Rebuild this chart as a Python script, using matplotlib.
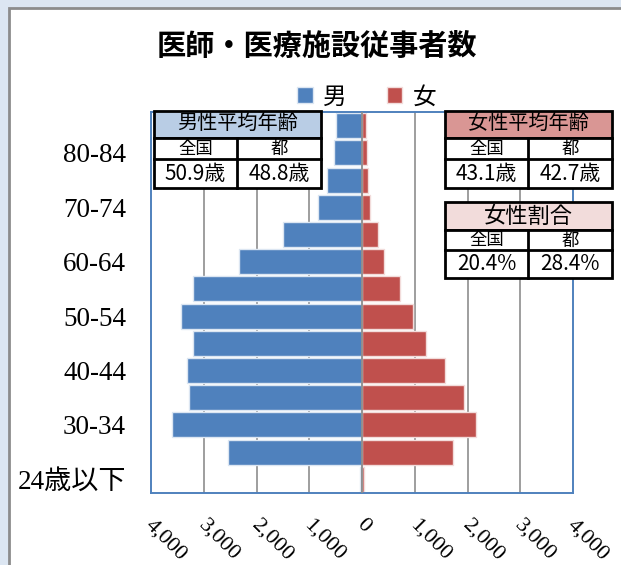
import matplotlib
matplotlib.use("Agg")
import matplotlib.pyplot as plt
from matplotlib.patches import Rectangle
from matplotlib.ticker import FixedLocator, FuncFormatter
import matplotlib.transforms as mtransforms
import numpy as np

# ---- data ----
categories = ['24歳以下', '25-29', '30-34', '35-39', '40-44', '45-49', '50-54',
              '55-59', '60-64', '65-69', '70-74', '75-79', '80-84', '85歳以上']
male = [40, 2540, 3600, 3280, 3310, 3210, 3430, 3200, 2330, 1500, 830, 660, 525, 495]
female = [30, 1730, 2160, 1940, 1575, 1215, 975, 720, 425, 310, 150, 120, 90, 85]
xticks = [-4000, -3000, -2000, -1000, 0, 1000, 2000, 3000, 4000]
legend_labels = ['男', '女']
title = '医師・医療施設従事者数'

male_age_title = '男性平均年齢'
female_age_title = '女性平均年齢'
female_ratio_title = '女性割合'
col_labels = ['全国', '都']
male_age = ['50.9歳', '48.8歳']
female_age = ['43.1歳', '42.7歳']
female_ratio = ['20.4%', '28.4%']

W, H = 621, 565
SANS = ['Noto Sans CJK JP', 'DejaVu Sans']
SERIF = ['Liberation Serif', 'Noto Sans CJK JP']

BLUE = '#4F81BD'
RED = '#C0504D'

fig = plt.figure(figsize=(W / 100, H / 100), dpi=100)
fig.patch.set_facecolor('#DCE6F2')

def fx(px):
    return px / W

def fy(py):
    return 1 - py / H

# white chart area with gray border
fig.add_artist(Rectangle((fx(9), fy(H + 20)), fx(W + 20), (H + 20 - 8) / H,
                         transform=fig.transFigure, facecolor='white',
                         edgecolor='#8C8C8C', linewidth=2, zorder=0))

ax = fig.add_axes([fx(151), fy(493), fx(573 - 151), (493 - 112) / H])
ax.set_facecolor('white')
y = np.arange(len(categories))
ax.barh(y, -np.array(male), height=0.92, color=BLUE, edgecolor='#DCE6F2',
        linewidth=1.0, zorder=2, label=legend_labels[0])
ax.barh(y, female, height=0.92, color=RED, edgecolor='#F2DCDB',
        linewidth=1.0, zorder=2, label=legend_labels[1])
ax.set_xlim(-4000, 4000)
ax.set_ylim(-0.5, len(categories) - 0.5)

for xv in xticks[1:-1]:
    if xv != 0:
        ax.axvline(xv, color='#969696', linewidth=1.3, zorder=1)
ax.axvline(0, color='#8C8C8C', linewidth=1.3, zorder=3)

for s in ax.spines.values():
    s.set_color(BLUE)
    s.set_linewidth(1.4)

ax.set_yticks(y[::2])
ax.set_yticklabels(categories[::2], fontfamily=SERIF, fontsize=19.5)
ax.tick_params(axis='y', length=0, pad=18)

ax.xaxis.set_major_locator(FixedLocator(xticks))
ax.xaxis.set_major_formatter(FuncFormatter(lambda v, p: f'{abs(int(v)):,}'))
ax.tick_params(axis='x', length=0, pad=16)
shift = mtransforms.ScaledTranslation(-9 / 100, 0, fig.dpi_scale_trans)
for lab in ax.get_xticklabels():
    lab.set_rotation(-45)
    lab.set_ha('left')
    lab.set_va('top')
    lab.set_fontfamily(SERIF)
    lab.set_fontsize(16)
    lab.set_transform(lab.get_transform() + shift)

fig.text(fx(317), fy(46), title, fontfamily=SANS, fontsize=21,
         fontweight='bold', ha='center', va='center')

leg = fig.legend(loc='center', bbox_to_anchor=(fx(367), fy(97)), ncol=2,
                 frameon=False, prop={'family': SANS, 'size': 17},
                 handlelength=0.65, handleheight=0.65, handletextpad=0.45,
                 columnspacing=1.7)

def table(x0, x1, xm, ys, header, hcolor, hsize, row2, row3):
    # ys: [top, header bottom, row2 bottom, bottom]
    fig.add_artist(Rectangle((fx(x0), fy(ys[1])), fx(x1 - x0), (ys[1] - ys[0]) / H,
                             transform=fig.transFigure, facecolor=hcolor,
                             edgecolor='black', linewidth=2, zorder=10))
    fig.add_artist(Rectangle((fx(x0), fy(ys[3])), fx(x1 - x0), (ys[3] - ys[1]) / H,
                             transform=fig.transFigure, facecolor='white',
                             edgecolor='black', linewidth=2, zorder=10))
    fig.add_artist(plt.Line2D([fx(x0), fx(x1)], [fy(ys[2]), fy(ys[2])],
                              transform=fig.transFigure, color='black', linewidth=2, zorder=11))
    fig.add_artist(plt.Line2D([fx(xm), fx(xm)], [fy(ys[1]), fy(ys[3])],
                              transform=fig.transFigure, color='black', linewidth=2, zorder=11))
    fig.text(fx((x0 + x1) / 2), fy((ys[0] + ys[1]) / 2), header, fontfamily=SANS,
             fontsize=hsize, ha='center', va='center', zorder=12)
    for cx, t in zip([(x0 + xm) / 2, (xm + x1) / 2], row2):
        fig.text(fx(cx), fy((ys[1] + ys[2]) / 2 + 0.5), t, fontfamily=SANS,
                 fontsize=12.5, ha='center', va='center', zorder=12)
    for cx, t in zip([(x0 + xm) / 2, (xm + x1) / 2], row3):
        fig.text(fx(cx), fy((ys[2] + ys[3]) / 2), t, fontfamily=SANS,
                 fontsize=15, ha='center', va='center', zorder=12)

table(154, 321, 237, [111, 138, 159, 188], male_age_title, '#B9CDE5', 14.5,
      col_labels, male_age)
table(445, 612, 528, [111, 138, 159, 188], female_age_title, '#D99694', 14.5,
      col_labels, female_age)
table(445, 612, 528, [202, 230, 250, 278], female_ratio_title, '#F2DCDB', 16,
      col_labels, female_ratio)

fig.savefig('out.png', dpi=100, facecolor=fig.get_facecolor())
